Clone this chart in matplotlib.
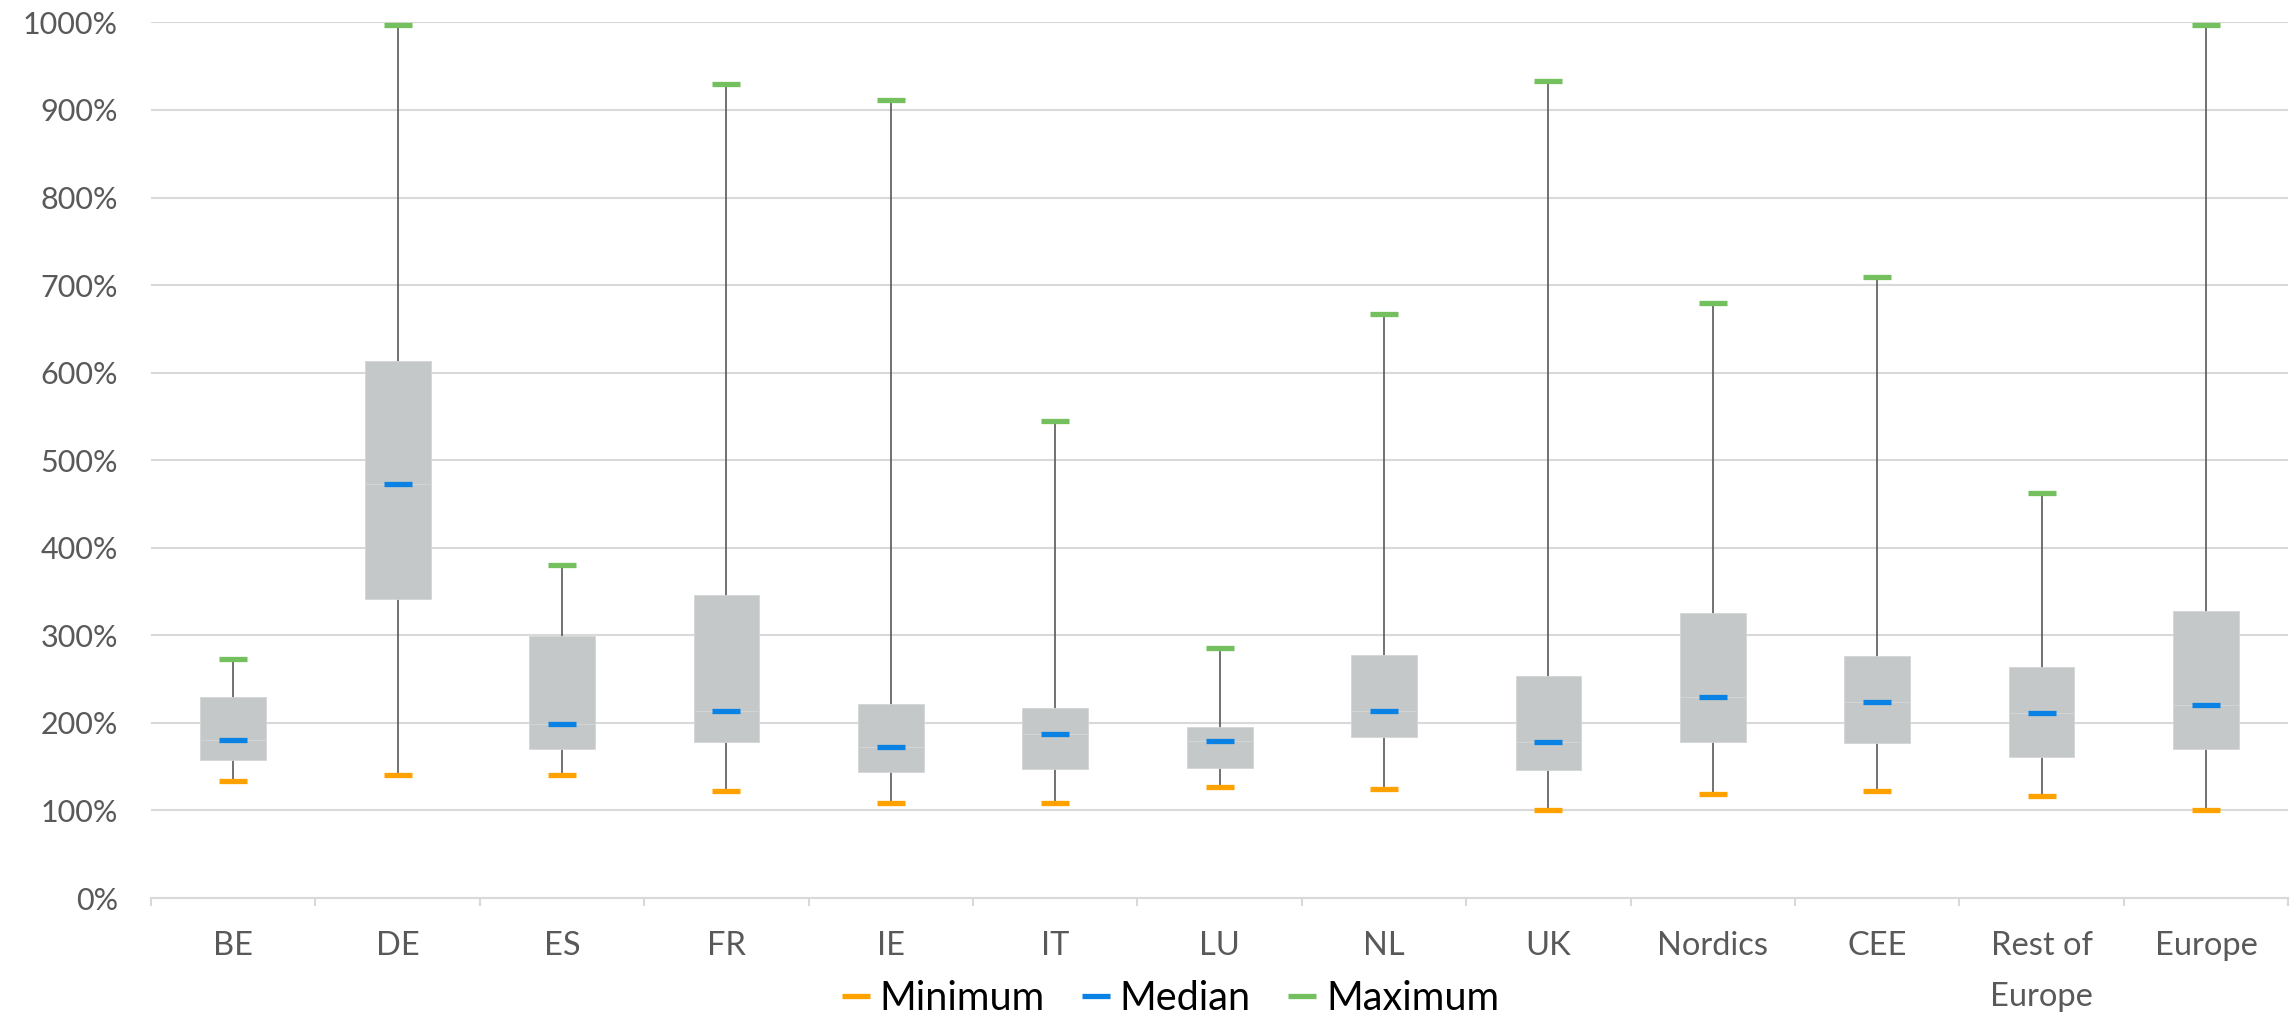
import matplotlib
matplotlib.use("Agg")
import matplotlib.pyplot as plt
from matplotlib.ticker import FuncFormatter, FixedLocator
import numpy as np

plt.rcParams['font.family'] = ['Lato', 'DejaVu Sans']

# Distribution of ratios by region (in %)
regions = ["BE", "DE", "ES", "FR", "IE", "IT", "LU", "NL", "UK",
           "Nordics", "CEE", "Rest of\nEurope", "Europe"]
minimum = [134, 140, 140, 122, 109, 108, 127, 124, 100, 119, 122, 116, 100]
q1      = [158, 341, 170, 178, 144, 147, 148, 184, 146, 178, 177, 161, 170]
median  = [181, 473, 199, 214, 173, 187, 179, 214, 178, 229, 224, 211, 220]
q3      = [229, 613, 299, 346, 222, 217, 195, 278, 254, 326, 276, 264, 328]
maximum = [273, 997, 380, 930, 911, 545, 285, 667, 933, 679, 709, 462, 997]

x = np.arange(len(regions))

fig = plt.figure(figsize=(22.93, 10.17), dpi=100)
ax = fig.add_axes([0.0659, 0.117, 0.932, 0.861])

grid_c = "#D9D9D9"
text_c = "#595959"

# whiskers from minimum to maximum
ax.vlines(x, minimum, maximum, color="#595959", lw=1.2, zorder=2)

# interquartile box, drawn as two stacked segments split at the median
lo = np.array(median) - np.array(q1)
hi = np.array(q3) - np.array(median)
ax.bar(x, lo, bottom=q1, width=0.4, color="#C5C8C9", edgecolor="#D3D5D6",
       lw=0.6, zorder=3)
ax.bar(x, hi, bottom=median, width=0.4, color="#C5C8C9", edgecolor="#D3D5D6",
       lw=0.6, zorder=3)

mk = dict(ls="none", marker="_", ms=19.5, mew=3.8, zorder=4)
h_min, = ax.plot(x, minimum, color="#FFA200", label="Minimum", **mk)
h_med, = ax.plot(x, median, color="#0A82E4", label="Median", **mk)
h_max, = ax.plot(x, maximum, color="#74BF5E", label="Maximum", **mk)

ax.set_xlim(-0.5, len(regions) - 0.5)
ax.set_ylim(0, 1000)
ax.set_yticks(np.arange(0, 1001, 100))
ax.yaxis.set_major_formatter(FuncFormatter(lambda v, p: f"{v:.0f}%"))
ax.grid(axis="y", color=grid_c, lw=1.5, zorder=0)
ax.set_axisbelow(True)

for s in ["top", "right", "left"]:
    ax.spines[s].set_visible(False)
ax.spines["bottom"].set_color(grid_c)
ax.spines["bottom"].set_linewidth(1.5)

ax.set_xticks(x)
ax.set_xticklabels(regions, va="top", linespacing=1.85)
ax.xaxis.set_minor_locator(FixedLocator(np.arange(-0.5, len(regions), 1.0)))
ax.tick_params(axis="x", which="major", length=0, pad=24, labelsize=23.5,
               labelcolor=text_c)
ax.tick_params(axis="x", which="minor", length=6, width=1.5, color=grid_c)
ax.tick_params(axis="y", length=0, pad=24, labelsize=22, labelcolor=text_c)

fig.legend(handles=[h_min, h_med, h_max], loc="center",
           bbox_to_anchor=(0.51, 0.018), ncol=3, frameon=False,
           fontsize=28.5, handlelength=0.8, handletextpad=0.2,
           columnspacing=0.9, labelcolor="black")

fig.savefig("out.png", dpi=100)
